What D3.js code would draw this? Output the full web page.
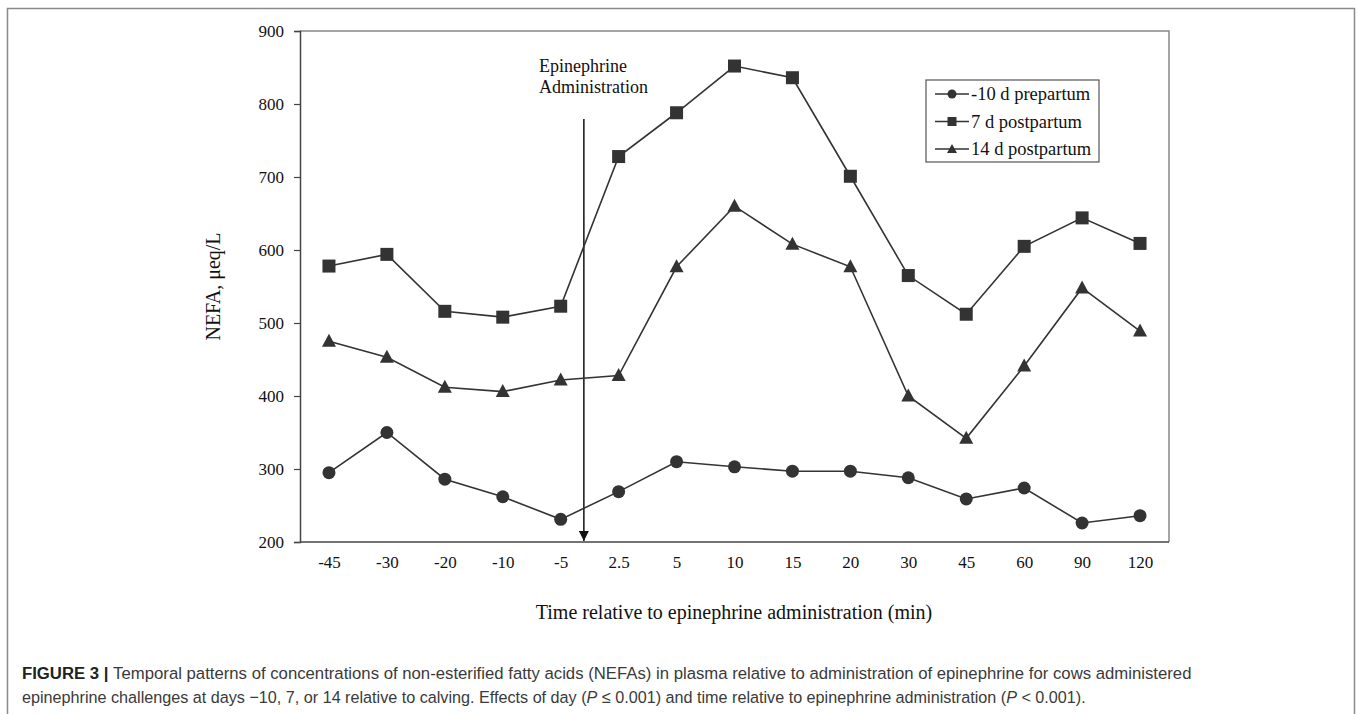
<!DOCTYPE html>
<html>
<head>
<meta charset="utf-8">
<script src="https://cdn.jsdelivr.net/npm/d3@7"></script>
<style>
  body { margin: 0; background: #fff; }
  svg { display: block; }
</style>
</head>
<body>
<svg id="chart" width="1358" height="714"></svg>
<script>
// time points (categorical x axis)
var times = ['-45', '-30', '-20', '-10', '-5', '2.5', '5', '10', '15', '20', '30', '45', '60', '90', '120'];

// NEFA, ueq/L
var prepartum10 = [295, 350, 286, 262, 231, 269, 310, 303, 297, 297, 288, 259, 274, 226, 236];
var postpartum7 = [578, 594, 516, 508, 523, 728, 788, 852, 836, 701, 565, 512, 605, 644, 609];
var postpartum14 = [475, 453, 412, 406, 422, 428, 577, 660, 608, 577, 400, 342, 441, 548, 489];

var yTicks = [200, 300, 400, 500, 600, 700, 800, 900];

var series = [
  { name: '-10 d prepartum', values: prepartum10, shape: 'circle' },
  { name: '7 d postpartum', values: postpartum7, shape: 'square' },
  { name: '14 d postpartum', values: postpartum14, shape: 'triangle' }
];

var svg = d3.select('#chart');
var ink = '#333';
var serif = '"Liberation Serif", "Times New Roman", serif';

// plot area edges (note: "top" is reserved on window, so use prefixed names)
var plotLeft = 300, plotRight = 1169, plotTop = 31, plotBottom = 542;

var x = d3.scalePoint().domain(times).range([plotLeft, plotRight]).padding(0.5);
var y = d3.scaleLinear().domain([200, 900]).range([plotBottom, plotTop]);

// outer figure frame (open at the bottom, runs off the page)
svg.append('path')
  .attr('d', 'M7.5,730 V8.5 H1354.5 V730')
  .attr('fill', 'none')
  .attr('stroke', '#8a8a8a')
  .attr('stroke-width', 1.5);

// plot area border (top/right)
svg.append('path')
  .attr('d', 'M' + plotLeft + ',' + plotTop + ' H' + plotRight + ' V' + plotBottom)
  .attr('fill', 'none')
  .attr('stroke', '#888')
  .attr('stroke-width', 1.5);

// y axis
var yAxis = svg.append('g')
  .attr('transform', 'translate(' + plotLeft + ',0)')
  .call(d3.axisLeft(y).tickValues(yTicks).tickSize(6).tickPadding(10));
yAxis.select('.domain').attr('stroke', '#444').attr('stroke-width', 1.5);
yAxis.selectAll('.tick line').attr('stroke', '#444').attr('stroke-width', 1.2);
yAxis.selectAll('text')
  .attr('font-family', serif).attr('font-size', 17).attr('fill', '#111');

// x axis (no tick marks)
var xAxis = svg.append('g')
  .attr('transform', 'translate(0,' + plotBottom + ')')
  .call(d3.axisBottom(x).tickSize(0).tickPadding(14));
xAxis.select('.domain')
  .attr('d', 'M' + plotLeft + ',0H' + plotRight)
  .attr('stroke', '#444').attr('stroke-width', 1.5);
xAxis.selectAll('text')
  .attr('font-family', serif).attr('font-size', 17).attr('fill', '#111');

// axis titles
svg.append('text')
  .attr('transform', 'translate(220,' + ((plotTop + plotBottom) / 2) + ') rotate(-90)')
  .attr('text-anchor', 'middle')
  .attr('font-family', serif).attr('font-size', 20).attr('fill', '#111')
  .text('NEFA, \u03bceq/L');

svg.append('text')
  .attr('x', 734).attr('y', 619)
  .attr('text-anchor', 'middle')
  .attr('font-family', serif).attr('font-size', 20).attr('fill', '#111')
  .text('Time relative to epinephrine administration (min)');

// epinephrine arrow
var arrowX = x('-5') + 0.4 * x.step();
svg.append('defs').append('marker')
  .attr('id', 'arrowhead')
  .attr('viewBox', '0 0 10 10')
  .attr('refX', 10).attr('refY', 5)
  .attr('markerWidth', 10).attr('markerHeight', 10)
  .attr('markerUnits', 'userSpaceOnUse')
  .attr('orient', 'auto')
  .append('path').attr('d', 'M0,0 L10,5 L0,10 Z').attr('fill', '#111');

svg.append('line')
  .attr('x1', arrowX).attr('x2', arrowX)
  .attr('y1', 119).attr('y2', plotBottom - 1)
  .attr('stroke', '#111').attr('stroke-width', 1.5)
  .attr('marker-end', 'url(#arrowhead)');

var note = svg.append('text')
  .attr('font-family', serif).attr('font-size', 18).attr('fill', '#111');
note.append('tspan').attr('x', 539).attr('y', 72).text('Epinephrine');
note.append('tspan').attr('x', 539).attr('y', 93).text('Administration');

// marker shapes
function drawMarker(g, shape, cx, cy) {
  if (shape === 'circle') {
    g.append('circle').attr('cx', cx).attr('cy', cy).attr('r', 6.5).attr('fill', ink);
  } else if (shape === 'square') {
    g.append('rect').attr('x', cx - 6.5).attr('y', cy - 6.5)
      .attr('width', 13).attr('height', 13).attr('fill', ink);
  } else {
    g.append('path')
      .attr('d', 'M' + cx + ',' + (cy - 7.5) + ' L' + (cx + 7) + ',' + (cy + 5.5) + ' L' + (cx - 7) + ',' + (cy + 5.5) + ' Z')
      .attr('fill', ink);
  }
}

var line = d3.line()
  .x(function(d, i) { return x(times[i]); })
  .y(function(d) { return y(d); });

series.forEach(function(s) {
  var g = svg.append('g');
  g.append('path')
    .attr('d', line(s.values))
    .attr('fill', 'none')
    .attr('stroke', ink)
    .attr('stroke-width', 1.6);
  s.values.forEach(function(v, i) {
    drawMarker(g, s.shape, x(times[i]), y(v));
  });
});

// legend
var legend = svg.append('g');
legend.append('rect')
  .attr('x', 926).attr('y', 80).attr('width', 173).attr('height', 82)
  .attr('fill', '#fff').attr('stroke', '#555').attr('stroke-width', 1.2);
series.forEach(function(s, i) {
  var ly = 94 + i * 27.5;
  legend.append('line')
    .attr('x1', 935).attr('x2', 969).attr('y1', ly).attr('y2', ly)
    .attr('stroke', ink).attr('stroke-width', 1.6);
  var mg = legend.append('g');
  if (s.shape === 'circle') {
    mg.append('circle').attr('cx', 952).attr('cy', ly).attr('r', 4.5).attr('fill', ink);
  } else if (s.shape === 'square') {
    mg.append('rect').attr('x', 947.5).attr('y', ly - 4.5).attr('width', 9).attr('height', 9).attr('fill', ink);
  } else {
    mg.append('path').attr('d', 'M952,' + (ly - 5) + ' L957,' + (ly + 4) + ' L947,' + (ly + 4) + ' Z').attr('fill', ink);
  }
  legend.append('text')
    .attr('x', 971).attr('y', ly + 6)
    .attr('font-family', serif).attr('font-size', 18.5).attr('fill', '#111')
    .text(s.name);
});

// caption
var sans = '"Liberation Sans", Arial, sans-serif';
function captionLine(yPos, parts, targetWidth) {
  var t = svg.append('text')
    .attr('y', yPos)
    .attr('font-family', sans).attr('font-size', 17).attr('fill', '#3a3a3a');
  parts.forEach(function(p) {
    var ts = t.append('tspan').text(p.text);
    if (p.bold) ts.attr('font-weight', 'bold').attr('fill', '#222');
    if (p.italic) ts.attr('font-style', 'italic');
  });
  var w = t.node().getComputedTextLength();
  var k = targetWidth / w;
  t.attr('transform', 'translate(22,0) scale(' + k + ',1)');
}

captionLine(679, [
  { text: 'FIGURE 3 | ', bold: true },
  { text: 'Temporal patterns of concentrations of non-esterified fatty acids (NEFAs) in plasma relative to administration of epinephrine for cows administered' }
], 1170);

captionLine(703, [
  { text: 'epinephrine challenges at days \u221210, 7, or 14 relative to calving. Effects of day (' },
  { text: 'P', italic: true },
  { text: ' \u2264 0.001) and time relative to epinephrine administration (' },
  { text: 'P', italic: true },
  { text: ' < 0.001).' }
], 1065);
</script>
</body>
</html>
